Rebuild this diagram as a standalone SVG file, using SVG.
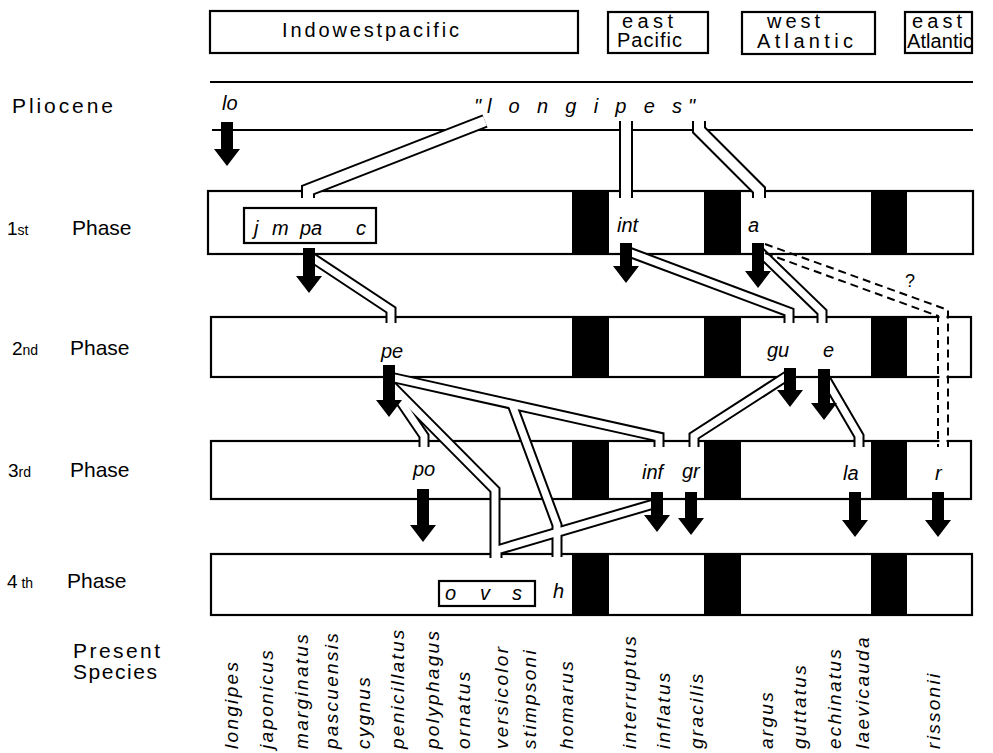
<svg xmlns="http://www.w3.org/2000/svg" xmlns:xlink="http://www.w3.org/1999/xlink" width="993" height="753" viewBox="0 0 993 753">
<style>
text{font-family:"Liberation Sans","DejaVu Sans",sans-serif;fill:#000}
.hd{font-size:20px}
.lb{font-size:21px}
.it{font-style:italic;font-size:20px}
.sp{font-style:italic;font-size:19px;letter-spacing:2.3px}
.box{fill:#fff;stroke:#000;stroke-width:2.2}
.blk{fill:#000}
.ln{stroke:#000;stroke-width:2.2;fill:none}
.cow{fill:none;stroke:#000;stroke-width:14;stroke-miterlimit:6}
.ciw{fill:none;stroke:#fff;stroke-width:10;stroke-miterlimit:6}
.co{fill:none;stroke:#000;stroke-width:11;stroke-miterlimit:6}
.ci{fill:none;stroke:#fff;stroke-width:7;stroke-miterlimit:6}
.dash{fill:none;stroke:#000;stroke-width:2;stroke-dasharray:8 5}
.arr{fill:#000}
</style>
<defs>
<path id="c1" d="M485,121 L308,190 L308,198"/>
<path id="c2" d="M626,121 L626,198"/>
<path id="c3" d="M699,121 L699,130 L759,190 L759,198"/>
<path id="c4" d="M308,255 L391,310 L391,323"/>
<path id="c5" d="M626,251 L789,312 L789,323"/>
<path id="c6" d="M758,250 L822,312 L822,323"/>
<path id="c8" d="M390,377 L659,437 L659,447"/>
<path id="c9" d="M512,404 L557,525 L557,557"/>
<path id="c10" d="M390,386 L424,436 L424,447"/>
<path id="c11" d="M390,384 L495,490 L495,558"/>
<path id="c12" d="M657,503 L497,550 L497,558"/>
<path id="c13" d="M790,374 L694,436 L694,447"/>
<path id="c14" d="M824,376 L859,436 L859,447"/>
</defs>

<g id="header">
<rect class="box" x="210" y="11" width="368" height="42"/>
<text class="hd" x="282" y="37" textLength="177" lengthAdjust="spacing">Indowestpacific</text>
<rect class="box" x="608" y="12" width="100" height="41"/>
<text class="hd" x="622" y="28" textLength="51" lengthAdjust="spacing">east</text>
<text class="hd" x="617" y="47" textLength="65" lengthAdjust="spacing">Pacific</text>
<rect class="box" x="742" y="12" width="133" height="42"/>
<text class="hd" x="767" y="28" textLength="53" lengthAdjust="spacing">west</text>
<text class="hd" x="757" y="48" textLength="96" lengthAdjust="spacing">Atlantic</text>
<rect class="box" x="905" y="12" width="67" height="41"/>
<text class="hd" x="912" y="28" textLength="50" lengthAdjust="spacing">east</text>
<text class="hd" x="907" y="48" textLength="66" lengthAdjust="spacing">Atlantic</text>
<line class="ln" x1="210" y1="82" x2="973" y2="82"/>
</g>

<g id="labels">
<text class="lb" x="12" y="113" textLength="101" lengthAdjust="spacing">Pliocene</text>
<text class="lb" x="7" y="235"><tspan font-size="19">1</tspan><tspan font-size="14">st</tspan></text>
<text class="lb" x="72" y="235">Phase</text>
<text class="lb" x="12" y="355"><tspan font-size="19">2</tspan><tspan font-size="14">nd</tspan></text>
<text class="lb" x="70" y="355">Phase</text>
<text class="lb" x="8" y="477"><tspan font-size="19">3</tspan><tspan font-size="14">rd</tspan></text>
<text class="lb" x="70" y="477">Phase</text>
<text class="lb" x="7" y="588"><tspan font-size="19">4</tspan><tspan font-size="14"> th</tspan></text>
<text class="lb" x="67" y="588">Phase</text>
<text class="lb" x="73" y="658" textLength="87" lengthAdjust="spacing">Present</text>
<text class="lb" x="73" y="679" textLength="84" lengthAdjust="spacing">Species</text>
</g>

<g id="pliocene">
<line class="ln" x1="212" y1="130" x2="973" y2="130"/>
<text class="it" x="222" y="110">lo</text>
<text class="it" x="474" y="113" textLength="221" lengthAdjust="spacing">"l o n g i p e s"</text>
</g>

<g id="phase1">
<rect class="box" x="208" y="191" width="765" height="63"/>
<rect class="blk" x="572" y="191" width="37" height="63"/>
<rect class="blk" x="704" y="191" width="37" height="63"/>
<rect class="blk" x="871" y="191" width="36" height="63"/>
<rect class="box" x="244" y="208" width="132" height="35"/>
<text class="it" x="254 262 272 292 300 311 322 356" y="235">j m pa c</text>
<text class="it" x="617" y="232">int</text>
<text class="it" x="748" y="232">a</text>
</g>

<g id="phase2">
<rect class="box" x="211" y="317" width="760" height="60"/>
<rect class="blk" x="572" y="317" width="37" height="60"/>
<rect class="blk" x="704" y="317" width="37" height="60"/>
<rect class="blk" x="871" y="317" width="36" height="60"/>
<text class="it" x="381" y="358">pe</text>
<text class="it" x="767" y="357">gu</text>
<text class="it" x="823" y="357">e</text>
</g>

<g id="phase3">
<rect class="box" x="211" y="441" width="760" height="58"/>
<rect class="blk" x="572" y="441" width="37" height="58"/>
<rect class="blk" x="704" y="441" width="37" height="58"/>
<rect class="blk" x="871" y="441" width="36" height="58"/>
<text class="it" x="413" y="476">po</text>
<text class="it" x="642" y="479">inf</text>
<text class="it" x="682" y="478">gr</text>
<text class="it" x="843" y="480">la</text>
<text class="it" x="935" y="480">r</text>
</g>

<g id="phase4">
<rect class="box" x="211" y="554" width="761" height="61"/>
<rect class="blk" x="572" y="554" width="37" height="61"/>
<rect class="blk" x="704" y="554" width="37" height="61"/>
<rect class="blk" x="871" y="554" width="36" height="61"/>
<rect class="box" x="439" y="581" width="96" height="25"/>
<text class="it" x="445 467 480 502 512" y="600">o v s</text>
<text class="it" x="553" y="598">h</text>
</g>

<g id="connectors">
<use xlink:href="#c1" class="cow"/>
<use xlink:href="#c2" class="cow"/>
<use xlink:href="#c3" class="cow"/>
<use xlink:href="#c4" class="co"/>
<use xlink:href="#c5" class="co"/>
<use xlink:href="#c6" class="co"/>
<use xlink:href="#c8" class="co"/>
<use xlink:href="#c9" class="co"/>
<use xlink:href="#c10" class="co"/>
<use xlink:href="#c11" class="co"/>
<use xlink:href="#c12" class="co"/>
<use xlink:href="#c13" class="co"/>
<use xlink:href="#c14" class="co"/>
<use xlink:href="#c1" class="ciw"/>
<use xlink:href="#c2" class="ciw"/>
<use xlink:href="#c3" class="ciw"/>
<use xlink:href="#c4" class="ci"/>
<use xlink:href="#c5" class="ci"/>
<use xlink:href="#c6" class="ci"/>
<use xlink:href="#c8" class="ci"/>
<use xlink:href="#c9" class="ci"/>
<use xlink:href="#c10" class="ci"/>
<use xlink:href="#c11" class="ci"/>
<use xlink:href="#c12" class="ci"/>
<use xlink:href="#c13" class="ci"/>
<use xlink:href="#c14" class="ci"/>
<rect x="939.5" y="314" width="7" height="6" fill="#fff"/>
<rect x="939.5" y="374" width="7" height="6" fill="#fff"/>
<rect x="939.5" y="438" width="7" height="6" fill="#fff"/>
<polyline class="dash" points="765,244 948,310 948,447"/>
<polyline class="dash" points="765,253 938,316 938,447"/>
<text x="905" y="287" font-size="18">?</text>
</g>

<g id="arrows">
<polygon class="arr" points="221,122 233,122 233,149 240,149 227,166 214,149 221,149"/>
<polygon class="arr" points="303,248 315,248 315,276 322,276 309,293 296,276 303,276"/>
<polygon class="arr" points="620,243 632,243 632,266 639,266 626,283 613,266 620,266"/>
<polygon class="arr" points="752,243 764,243 764,271 771,271 758,288 745,271 752,271"/>
<polygon class="arr" points="383,365 395,365 395,400 402,400 389,417 376,400 383,400"/>
<polygon class="arr" points="784,368 796,368 796,390 803,390 790,407 777,390 784,390"/>
<polygon class="arr" points="818,369 830,369 830,403 837,403 824,420 811,403 818,403"/>
<polygon class="arr" points="417,489 429,489 429,525 436,525 423,542 410,525 417,525"/>
<polygon class="arr" points="651,492 663,492 663,515 670,515 657,532 644,515 651,515"/>
<polygon class="arr" points="685,492 697,492 697,518 704,518 691,535 678,518 685,518"/>
<polygon class="arr" points="849,492 861,492 861,520 868,520 855,537 842,520 849,520"/>
<polygon class="arr" points="932,492 944,492 944,520 951,520 938,537 925,520 932,520"/>
</g>

<g id="species">
<text class="sp" transform="translate(238,749) rotate(-90)">longipes</text>
<text class="sp" transform="translate(273,749) rotate(-90)">japonicus</text>
<text class="sp" transform="translate(308,749) rotate(-90)">marginatus</text>
<text class="sp" transform="translate(338,749) rotate(-90)">pascuensis</text>
<text class="sp" transform="translate(370,749) rotate(-90)">cygnus</text>
<text class="sp" transform="translate(404,749) rotate(-90)">penicillatus</text>
<text class="sp" transform="translate(439,749) rotate(-90)">polyphagus</text>
<text class="sp" transform="translate(470,749) rotate(-90)">ornatus</text>
<text class="sp" transform="translate(508,749) rotate(-90)">versicolor</text>
<text class="sp" transform="translate(536,749) rotate(-90)">stimpsoni</text>
<text class="sp" transform="translate(573,749) rotate(-90)">homarus</text>
<text class="sp" transform="translate(636,749) rotate(-90)">interruptus</text>
<text class="sp" transform="translate(670,749) rotate(-90)">inflatus</text>
<text class="sp" transform="translate(703,749) rotate(-90)">gracilis</text>
<text class="sp" transform="translate(773,749) rotate(-90)">argus</text>
<text class="sp" transform="translate(806,749) rotate(-90)">guttatus</text>
<text class="sp" transform="translate(841,749) rotate(-90)">echinatus</text>
<text class="sp" transform="translate(869,749) rotate(-90)">laevicauda</text>
<text class="sp" transform="translate(940,749) rotate(-90)">rissonii</text>
</g>
</svg>
